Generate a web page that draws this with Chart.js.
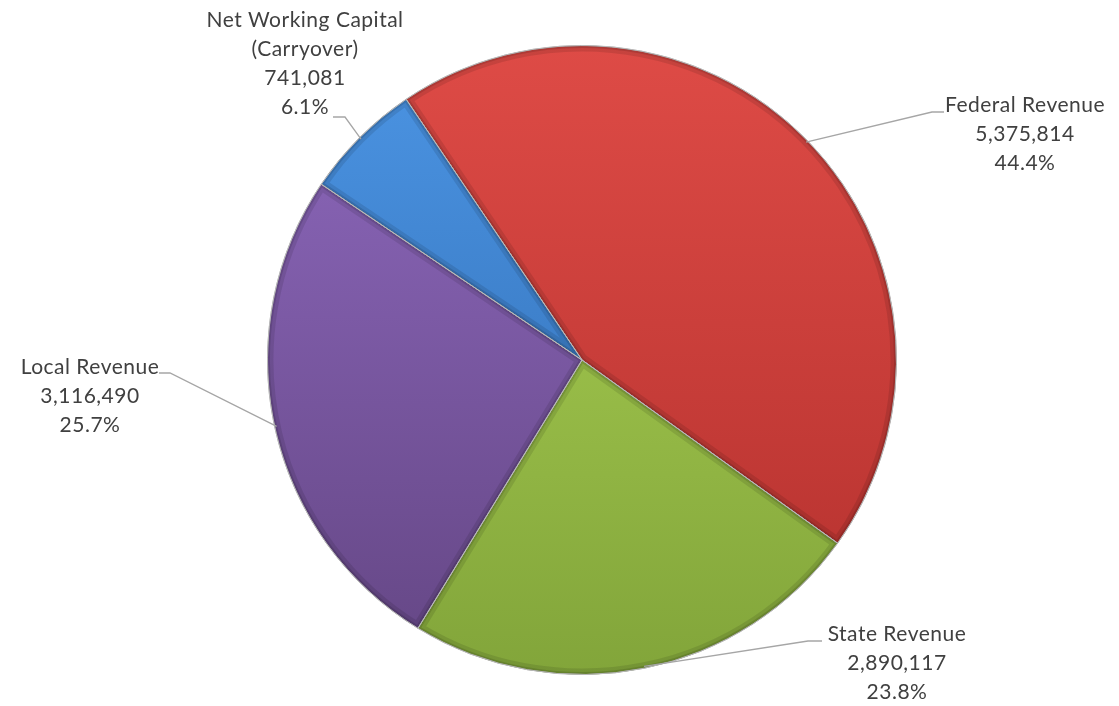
<!DOCTYPE html>
<html>
<head>
<meta charset="utf-8">
<script src="https://cdn.jsdelivr.net/npm/chart.js@4.4.1/dist/chart.umd.min.js"></script>
<style>
  html, body { margin: 0; padding: 0; background: #fff; }
  #wrap { width: 1119px; height: 706px; }
</style>
</head>
<body>
<div id="wrap"><canvas id="myChart" width="1119" height="706"></canvas></div>
<script>
// revenue sources, in slice order (clockwise from the top-left)
var sources = ['Federal Revenue', 'State Revenue', 'Local Revenue', 'Net Working Capital (Carryover)'];
var amounts = [5375814, 2890117, 3116490, 741081];
var shares = ['44.4%', '23.8%', '25.7%', '6.1%'];
// label text lines (name may wrap)
var nameLines = [['Federal Revenue'], ['State Revenue'], ['Local Revenue'], ['Net Working Capital', '(Carryover)']];

// light (top) and dark (bottom) tone for each slice
var topColors = ['#de4b46', '#aed456', '#8e69be', '#4c95e4'];
var bottomColors = ['#b3302d', '#82a53a', '#644684', '#2d68ad'];

// where each callout sits: elbow of the leader line, end of its short tail, text centre and first baseline
var callouts = [
  { elbow: [932, 112], tail: [944, 112], tx: 1025, ty: 112 },
  { elbow: [808, 641], tail: [822, 641], tx: 897, ty: 641 },
  { elbow: [170, 373], tail: [159, 373], tx: 90, ty: 374 },
  { elbow: [345, 117], tail: [333, 117], tx: 305, ty: 27 }
];

function fmt(n) {
  return n.toString().replace(/\B(?=(\d{3})+(?!\d))/g, ',');
}

var sliceFill = function(c) {
  var chart = c.chart;
  var area = chart.chartArea;
  if (!area) return topColors[c.dataIndex];
  var g = chart.ctx.createLinearGradient(0, area.top, 0, area.bottom);
  g.addColorStop(0, topColors[c.dataIndex]);
  g.addColorStop(1, bottomColors[c.dataIndex]);
  return g;
};

// darker rim inside each slice to give the raised look
var bevel = {
  id: 'bevel',
  afterDatasetsDraw: function(chart) {
    var ctx = chart.ctx;
    chart.getDatasetMeta(0).data.forEach(function(arc) {
      var p = arc.getProps(['x', 'y', 'startAngle', 'endAngle', 'outerRadius'], true);
      ctx.save();
      ctx.beginPath();
      ctx.moveTo(p.x, p.y);
      ctx.arc(p.x, p.y, p.outerRadius, p.startAngle, p.endAngle);
      ctx.closePath();
      ctx.clip();
      ctx.lineJoin = 'round';
      ctx.strokeStyle = 'rgba(0,0,0,0.10)';
      ctx.lineWidth = 12;
      ctx.stroke();
      ctx.strokeStyle = 'rgba(0,0,0,0.12)';
      ctx.lineWidth = 5;
      ctx.stroke();
      ctx.restore();
      ctx.save();
      ctx.beginPath();
      ctx.moveTo(p.x, p.y);
      ctx.arc(p.x, p.y, p.outerRadius, p.startAngle, p.endAngle);
      ctx.closePath();
      ctx.strokeStyle = 'rgba(190,190,190,0.9)';
      ctx.lineWidth = 1;
      ctx.stroke();
      ctx.restore();
    });
  }
};

// callout labels with leader lines
var callout = {
  id: 'callout',
  afterDraw: function(chart) {
    var ctx = chart.ctx;
    chart.getDatasetMeta(0).data.forEach(function(arc, i) {
      var p = arc.getProps(['x', 'y', 'startAngle', 'endAngle', 'outerRadius'], true);
      var mid = (p.startAngle + p.endAngle) / 2;
      var ex = p.x + Math.cos(mid) * (p.outerRadius - 2);
      var ey = p.y + Math.sin(mid) * (p.outerRadius - 2);
      var c = callouts[i];
      ctx.save();
      ctx.strokeStyle = '#a6a6a6';
      ctx.lineWidth = 1.3;
      ctx.beginPath();
      ctx.moveTo(ex, ey);
      ctx.lineTo(c.elbow[0], c.elbow[1]);
      ctx.lineTo(c.tail[0], c.tail[1]);
      ctx.stroke();

      var lines = nameLines[i].concat([fmt(amounts[i]), shares[i]]);
      ctx.fillStyle = '#404040';
      ctx.font = '21px Lato';
      ctx.letterSpacing = '0.5px';
      ctx.textAlign = 'center';
      ctx.textBaseline = 'middle';
      lines.forEach(function(t, k) {
        ctx.fillText(t, c.tx, c.ty - 7 + k * 29);
      });
      ctx.restore();
    });
  }
};

var ctx = document.getElementById('myChart').getContext('2d');
var myChart = new Chart(ctx, {
  type: 'pie',
  data: {
    labels: sources,
    datasets: [{
      data: amounts,
      backgroundColor: sliceFill,
      borderColor: 'rgba(170,170,170,0.9)',
      borderWidth: 1
    }]
  },
  options: {
    responsive: false,
    animation: false,
    rotation: -34,
    layout: {
      padding: { left: 267, right: 222, top: 45, bottom: 31 }
    },
    plugins: {
      legend: { display: false },
      tooltip: { enabled: false }
    }
  },
  plugins: [bevel, callout]
});
</script>
</body>
</html>
